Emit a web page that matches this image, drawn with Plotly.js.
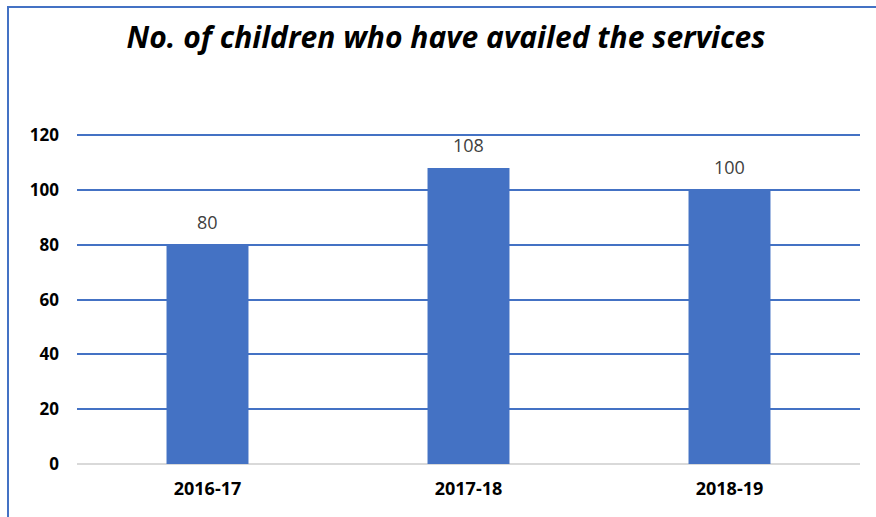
<!DOCTYPE html>
<html>
<head>
<meta charset="utf-8">
<script src="https://cdn.plot.ly/plotly-3.0.1.min.js"></script>
<style>
  html, body { margin: 0; padding: 0; background: #fff; }
  #wrap { position: relative; width: 876px; height: 517px; overflow: hidden; }
  #chart { width: 876px; height: 517px; }
  #frame { position: absolute; left: 7px; top: 6px; width: 900px; height: 600px;
           border-left: 2px solid #4472C4; border-top: 2px solid #4472C4; pointer-events: none; }
</style>
</head>
<body>
<div id="wrap">
  <div id="chart"></div>
  <div id="frame"></div>
</div>
<script>
const categories = ["2016-17", "2017-18", "2018-19"];
const children = [80, 108, 100];
const yTicks = [0, 20, 40, 60, 80, 100, 120];

const trace = {
  type: "bar",
  x: categories,
  y: children,
  marker: { color: "#4472C4" },
  hoverinfo: "x+y"
};

const labels = categories.map((c, i) => ({
  x: c, y: children[i], xref: "x", yref: "y",
  text: String(children[i]), showarrow: false,
  yanchor: "bottom", yshift: 9,
  font: { family: "Open Sans, sans-serif", size: 18, color: "#404040" }
}));

const layout = {
  width: 876, height: 517,
  margin: { l: 77, r: 16, t: 134, b: 53 },
  paper_bgcolor: "#fff", plot_bgcolor: "#fff",
  bargap: 0.686,
  showlegend: false,
  title: {
    text: "<b><i>No. of children who have availed the services</i></b>",
    xref: "paper", xanchor: "center",
    yref: "container", yanchor: "middle",
    font: { family: "Open Sans, sans-serif", size: 30, color: "#000" }
  },
  xaxis: {
    type: "category",
    showgrid: false, zeroline: false, showline: false, ticks: "",
    ticklabelstandoff: 12,
    tickfont: { family: "Open Sans, sans-serif", size: 18, color: "#000", weight: "bold" }
  },
  yaxis: {
    range: [0, 120.4], tickvals: yTicks, ticktext: yTicks.map(String),
    showgrid: true, gridcolor: "#4472C4", gridwidth: 2,
    zeroline: true, zerolinecolor: "#d9d9d9", zerolinewidth: 2,
    showline: false, ticks: "",
    ticklabelstandoff: 17,
    tickfont: { family: "Open Sans, sans-serif", size: 17, color: "#000", weight: "bold" }
  },
  annotations: labels
};
layout.title.x = (446 - 77) / (876 - 77 - 16);
layout.title.y = 1 - 37.5 / 517;

Plotly.newPlot("chart", [trace], layout, { displayModeBar: false, staticPlot: true });
</script>
</body>
</html>
